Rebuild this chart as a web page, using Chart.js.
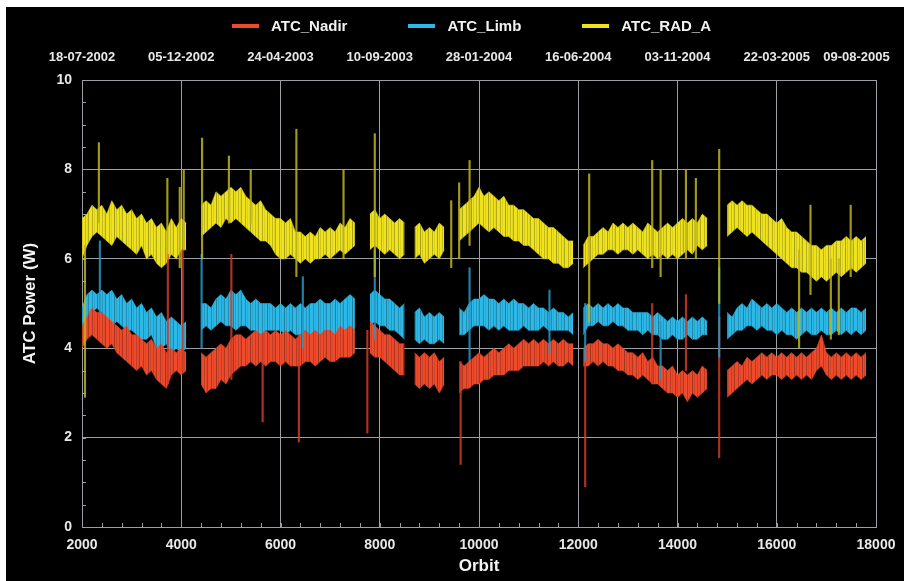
<!DOCTYPE html>
<html lang="en">
<head>
    <meta charset="UTF-8">
    <title>ATC Power</title>
    <style>
        html, body { margin: 0; padding: 0; background: #fff; }
        #panel {
            position: absolute; left: 6px; top: 7px;
            width: 898px; height: 574px;
            background: #000; overflow: hidden;
        }
        #chart-wrap { position: absolute; left: 0; top: 0; width: 898px; height: 574px; }
        #legend {
            position: absolute; left: 226px; top: 9px;
            display: flex; align-items: center;
            font: bold 15px 'Liberation Sans', Arial, sans-serif;
            color: #f2f2f2; line-height: 20px;
        }
        #legend .item { display: flex; align-items: center; margin-right: 61px; }
        #legend .swatch { width: 27px; height: 4px; margin-right: 12px; }
    </style>
</head>
<body>
    <div id="panel">
        <div id="chart-wrap"><canvas id="atcChart"></canvas></div>
        <div id="legend"></div>
    </div>

    <script src="https://cdn.jsdelivr.net/npm/chart.js"></script>
    <script>
        // samples every 100 orbits starting at orbit 2000, null = no data
        const orbitStart = 2000;
        const orbitStep = 100;

        const dateLabels = ['18-07-2002', '05-12-2002', '24-04-2003', '10-09-2003', '28-01-2004',
                            '16-06-2004', '03-11-2004', '22-03-2005', '09-08-2005'];

        const yellowHigh = [
            6.9, 7.0, 7.2, 7.1, 7.2, 7.0, 7.3, 7.1, 7.2, 7.0,
            7.1, 6.9, 7.0, 6.8, 6.9, 6.7, 6.8, 6.6, 6.9, 6.7,
            6.9, 6.8, null, null, 7.2, 7.3, 7.2, 7.5, 7.4, 7.5,
            7.6, 7.5, 7.6, 7.4, 7.3, 7.2, 7.3, 7.1, 7.0, 6.9,
            6.9, 6.8, 6.9, 6.6, 6.6, 6.5, 6.6, 6.5, 6.7, 6.6,
            6.7, 6.6, 6.8, 6.7, 6.9, 6.8, null, null, 7.0, 7.1,
            6.9, 7.0, 6.9, 6.8, 6.9, 6.8, null, 6.7, 6.8, 6.6,
            6.7, 6.6, 6.8, 6.7, null, null, 7.1, 7.2, 7.3, 7.4,
            7.6, 7.4, 7.5, 7.4, 7.3, 7.4, 7.2, 7.2, 7.1, 7.1,
            7.0, 6.9, 6.9, 6.8, 6.7, 6.7, 6.6, 6.5, 6.4, 6.4,
            null, 6.3, 6.5, 6.5, 6.6, 6.7, 6.6, 6.8, 6.7, 6.8,
            6.7, 6.8, 6.7, 6.6, 6.8, 6.7, 6.6, 6.7, 6.8, 6.7,
            6.8, 6.9, 6.8, 6.9, 6.8, 7.0, 6.9, null, null, null,
            7.2, 7.3, 7.2, 7.3, 7.2, 7.2, 7.1, 7.0, 7.0, 6.9,
            6.8, 6.9, 6.7, 6.6, 6.6, 6.5, 6.4, 6.3, 6.3, 6.2,
            6.3, 6.3, 6.4, 6.4, 6.5, 6.4, 6.5, 6.4, 6.5
        ];
        const yellowLow = [
            6.0, 6.3, 6.5, 6.6, 6.5, 6.4, 6.3, 6.5, 6.4, 6.3,
            6.2, 6.1, 6.3, 6.0, 6.1, 5.9, 5.8, 5.9, 6.1, 6.0,
            6.2, 6.2, null, null, 6.5, 6.6, 6.7, 6.8, 6.7, 6.9,
            6.8, 6.9, 6.8, 6.7, 6.6, 6.5, 6.4, 6.4, 6.3, 6.1,
            6.0, 6.0, 6.1, 6.0, 5.9, 6.0, 5.9, 6.0, 6.0, 6.1,
            6.0, 6.1, 6.2, 6.1, 6.2, 6.3, null, null, 6.2, 6.3,
            6.2, 6.1, 6.2, 6.1, 6.0, 6.1, null, 6.0, 6.1, 5.9,
            6.0, 6.1, 6.0, 6.2, null, null, 6.4, 6.5, 6.6, 6.7,
            6.8, 6.7, 6.6, 6.7, 6.6, 6.5, 6.5, 6.4, 6.4, 6.3,
            6.3, 6.2, 6.1, 6.0, 6.0, 5.9, 5.9, 5.8, 5.8, 5.9,
            null, 5.8, 5.9, 6.0, 6.1, 6.1, 6.2, 6.2, 6.1, 6.2,
            6.2, 6.1, 6.2, 6.1, 6.0, 6.1, 6.0, 6.1, 6.0, 6.1,
            6.0, 6.1, 6.2, 6.1, 6.3, 6.2, 6.3, null, null, null,
            6.5, 6.6, 6.7, 6.6, 6.5, 6.6, 6.5, 6.4, 6.3, 6.2,
            6.1, 6.0, 5.9, 5.8, 5.8, 5.7, 5.7, 5.6, 5.5, 5.6,
            5.5, 5.6, 5.7, 5.6, 5.7, 5.8, 5.7, 5.8, 5.9
        ];

        const blueHigh = [
            4.9, 5.2, 5.3, 5.2, 5.3, 5.2, 5.3, 5.1, 5.2, 5.0,
            5.1, 4.9, 5.0, 4.8, 4.9, 4.7, 4.8, 4.6, 4.7, 4.6,
            4.5, 4.6, null, null, 5.0, 5.0, 4.9, 5.1, 5.2, 5.1,
            5.3, 5.2, 5.3, 5.1, 5.0, 5.1, 5.0, 5.0, 5.0, 4.9,
            5.0, 4.9, 5.0, 4.9, 5.0, 4.9, 5.0, 5.0, 5.1, 5.0,
            5.0, 5.1, 5.0, 5.1, 5.2, 5.1, null, null, 5.2, 5.3,
            5.2, 5.1, 5.1, 5.0, 4.9, 5.0, null, 4.8, 4.9, 4.7,
            4.8, 4.7, 4.8, 4.7, null, null, 4.9, 4.8, 5.0, 5.1,
            5.1, 5.2, 5.1, 5.1, 5.0, 5.1, 5.0, 5.1, 5.0, 5.0,
            4.9, 5.0, 4.9, 4.9, 4.8, 4.9, 4.8, 4.8, 4.7, 4.8,
            null, 4.9, 5.0, 4.9, 5.0, 4.9, 5.0, 4.9, 5.0, 4.9,
            4.9, 4.8, 4.8, 4.8, 4.8, 4.7, 4.8, 4.7, 4.6, 4.7,
            4.6, 4.7, 4.6, 4.7, 4.6, 4.7, 4.6, null, null, null,
            4.8, 4.7, 4.9, 5.0, 4.9, 5.1, 5.0, 4.9, 5.0, 4.9,
            5.0, 4.9, 4.8, 4.9, 4.8, 4.9, 4.8, 4.9, 4.8, 4.9,
            4.8, 4.9, 4.8, 4.9, 4.8, 4.9, 4.9, 4.8, 4.9
        ];
        const blueLow = [
            4.4, 4.6, 4.8, 4.9, 4.8, 4.6, 4.5, 4.6, 4.5, 4.4,
            4.4, 4.3, 4.2, 4.2, 4.3, 4.0, 4.0, 4.1, 3.9, 4.0,
            3.9, 4.0, null, null, 4.4, 4.5, 4.4, 4.5, 4.6, 4.5,
            4.5, 4.4, 4.5, 4.5, 4.4, 4.4, 4.3, 4.4, 4.4, 4.4,
            4.4, 4.3, 4.4, 4.3, 4.3, 4.4, 4.3, 4.4, 4.3, 4.4,
            4.4, 4.3, 4.4, 4.4, 4.5, 4.4, null, null, 4.5, 4.6,
            4.5, 4.5, 4.4, 4.4, 4.3, 4.2, null, 4.2, 4.1, 4.2,
            4.1, 4.1, 4.2, 4.1, null, null, 4.3, 4.3, 4.4, 4.5,
            4.5, 4.5, 4.4, 4.5, 4.4, 4.5, 4.4, 4.4, 4.4, 4.5,
            4.4, 4.4, 4.4, 4.5, 4.4, 4.4, 4.4, 4.4, 4.4, 4.3,
            null, 4.3, 4.5, 4.5, 4.6, 4.5, 4.5, 4.6, 4.5, 4.5,
            4.4, 4.4, 4.4, 4.3, 4.4, 4.3, 4.3, 4.2, 4.2, 4.3,
            4.2, 4.2, 4.3, 4.2, 4.2, 4.3, 4.3, null, null, null,
            4.2, 4.3, 4.4, 4.4, 4.5, 4.5, 4.4, 4.5, 4.4, 4.4,
            4.3, 4.4, 4.3, 4.3, 4.2, 4.3, 4.4, 4.3, 4.3, 4.4,
            4.3, 4.3, 4.4, 4.3, 4.4, 4.3, 4.4, 4.3, 4.4
        ];

        const redHigh = [
            4.5, 4.7, 4.9, 4.8, 4.8, 4.7, 4.6, 4.5, 4.4, 4.5,
            4.3, 4.3, 4.2, 4.1, 4.2, 4.0, 4.1, 3.9, 4.0, 3.9,
            4.0, 3.9, null, null, 3.9, 3.8, 3.9, 4.0, 4.1, 4.0,
            4.2, 4.3, 4.3, 4.2, 4.3, 4.4, 4.3, 4.4, 4.3, 4.4,
            4.3, 4.4, 4.3, 4.2, 4.3, 4.4, 4.3, 4.4, 4.3, 4.4,
            4.4, 4.3, 4.5, 4.4, 4.5, 4.4, null, null, 4.6, 4.5,
            4.4, 4.3, 4.3, 4.2, 4.1, 4.1, null, 3.9, 3.8, 3.9,
            3.8, 3.9, 3.7, 3.8, null, null, 3.7, 3.6, 3.7, 3.8,
            3.9, 3.8, 3.9, 4.0, 3.9, 4.0, 4.1, 4.0, 4.1, 4.2,
            4.1, 4.2, 4.1, 4.2, 4.1, 4.2, 4.1, 4.2, 4.1, 4.1,
            null, 4.0, 4.1, 4.1, 4.2, 4.1, 4.1, 4.0, 4.1, 4.0,
            3.9, 3.9, 3.8, 3.9, 3.7, 3.8, 3.6, 3.6, 3.5, 3.6,
            3.4, 3.5, 3.4, 3.5, 3.4, 3.6, 3.5, null, null, null,
            3.5, 3.6, 3.7, 3.6, 3.8, 3.7, 3.8, 3.9, 3.8, 3.9,
            3.8, 3.9, 3.8, 3.9, 3.8, 3.9, 3.8, 3.9, 4.0, 4.3,
            3.9, 3.8, 3.9, 3.8, 3.9, 3.8, 3.9, 3.8, 3.9
        ];
        const redLow = [
            4.0, 4.2, 4.3, 4.2, 4.1, 4.0, 4.1, 3.9, 3.8, 3.7,
            3.6, 3.5, 3.6, 3.4, 3.5, 3.3, 3.2, 3.1, 3.4, 3.5,
            3.4, 3.5, null, null, 3.2, 3.0, 3.1, 3.1, 3.3, 3.2,
            3.4, 3.5, 3.6, 3.6, 3.7, 3.6, 3.7, 3.6, 3.7, 3.7,
            3.6, 3.7, 3.6, 3.6, 3.6, 3.7, 3.7, 3.6, 3.7, 3.8,
            3.7, 3.7, 3.8, 3.8, 3.8, 3.9, null, null, 3.9, 3.8,
            3.8, 3.7, 3.6, 3.5, 3.4, 3.4, null, 3.2, 3.1, 3.2,
            3.1, 3.2, 3.0, 3.2, null, null, 3.0, 3.1, 3.1, 3.2,
            3.2, 3.3, 3.3, 3.4, 3.4, 3.4, 3.5, 3.5, 3.5, 3.6,
            3.6, 3.6, 3.6, 3.7, 3.6, 3.7, 3.6, 3.6, 3.7, 3.6,
            null, 3.6, 3.6, 3.7, 3.6, 3.7, 3.6, 3.6, 3.5, 3.5,
            3.4, 3.4, 3.3, 3.4, 3.3, 3.2, 3.2, 3.1, 3.0, 3.0,
            2.9, 3.0, 2.8, 3.0, 2.9, 3.0, 3.1, null, null, null,
            2.9, 3.0, 3.1, 3.2, 3.3, 3.2, 3.3, 3.4, 3.3, 3.4,
            3.4, 3.3, 3.4, 3.3, 3.4, 3.3, 3.4, 3.3, 3.5, 3.6,
            3.4, 3.3, 3.4, 3.3, 3.4, 3.3, 3.4, 3.3, 3.4
        ];

        // isolated outliers: [orbit, low, high]
        const yellowSpikes = [
            [2060, 2.9, 6.3], [2340, 6.8, 8.6], [3720, 6.0, 7.8], [3970, 5.8, 7.6], [4050, 6.2, 8.0],
            [4420, 6.0, 8.7], [4960, 6.8, 8.3], [5400, 6.8, 8.0], [6320, 5.6, 8.9], [7270, 6.0, 8.0],
            [7900, 5.6, 8.8], [9440, 5.8, 7.3], [9600, 6.0, 7.7], [9810, 6.3, 8.2], [12220, 4.6, 7.9],
            [13490, 5.8, 8.2], [13660, 5.6, 8.0], [14170, 6.0, 8.0], [14370, 6.0, 7.8], [14840, 5.0, 8.45],
            [16450, 4.0, 6.2], [16680, 5.2, 7.2], [17090, 4.2, 6.0], [17250, 4.3, 6.0], [17490, 5.6, 7.2]
        ];
        const blueSpikes = [
            [2360, 4.8, 6.4], [4410, 4.0, 6.1], [6450, 4.0, 5.6], [7900, 4.2, 6.2], [9810, 3.7, 5.8],
            [11420, 3.9, 5.3], [12140, 3.7, 5.0], [13660, 3.3, 4.6], [14840, 3.8, 5.8]
        ];
        const redSpikes = [
            [3730, 3.2, 6.1], [4030, 3.5, 6.2], [5010, 3.3, 6.1], [5640, 2.35, 4.3], [6370, 1.9, 4.3],
            [7750, 2.1, 4.4], [9630, 1.4, 3.7], [12140, 0.9, 4.0], [13490, 3.2, 5.0], [14170, 3.5, 5.2],
            [14840, 1.55, 4.7]
        ];

        const series = [
            { name: 'ATC_Nadir', color: '#ee4a2c', edge: 'rgba(238,74,44,0.55)',  spike: 'rgba(205,60,40,0.85)' },
            { name: 'ATC_Limb',  color: '#2cb9e8', edge: 'rgba(44,185,232,0.55)', spike: 'rgba(40,150,195,0.85)' },
            { name: 'ATC_RAD_A', color: '#efe31f', edge: 'rgba(239,227,31,0.55)', spike: 'rgba(190,180,30,0.85)' }
        ];

        const gridColor = '#9ca0a4';
        const tickColor = '#e8e8e8';
        const fontFamily = "'Liberation Sans', Arial, sans-serif";

        // darker vertical streaks inside each band
        const streakShade = [0, 0.22, 0, 0.08, 0, 0, 0.3, 0, 0.12, 0, 0, 0.18, 0, 0.05, 0.25, 0, 0];
        function streaks(color) {
            const c = document.createElement('canvas');
            c.width = streakShade.length;
            c.height = 1;
            const g = c.getContext('2d');
            g.fillStyle = color;
            g.fillRect(0, 0, c.width, 1);
            streakShade.forEach((a, px) => {
                g.fillStyle = 'rgba(0,0,0,' + a + ')';
                g.fillRect(px, 0, 1, 1);
            });
            return g.createPattern(c, 'repeat');
        }

        function line(vals) {
            return vals.map((v, i) => ({ x: orbitStart + i * orbitStep, y: v }));
        }

        function spikes(list) {
            return list.map(([x, lo, hi]) => ({ x: x, y: [lo, hi] }));
        }

        // small inward tick marks between the labelled ones
        const minorTicks = {
            id: 'minorTicks',
            beforeDatasetsDraw(chart) {
                const { ctx, chartArea: a, scales: { x, y } } = chart;
                ctx.save();
                ctx.strokeStyle = gridColor;
                ctx.lineWidth = 1;
                ctx.beginPath();
                for (let o = x.min; o <= x.max; o += 400) {
                    const px = Math.round(x.getPixelForValue(o)) + 0.5;
                    ctx.moveTo(px, a.bottom);
                    ctx.lineTo(px, a.bottom - 4);
                }
                for (let v = y.min; v <= y.max; v += 0.5) {
                    const py = Math.round(y.getPixelForValue(v)) + 0.5;
                    ctx.moveTo(a.left, py);
                    ctx.lineTo(a.left + 4, py);
                }
                ctx.stroke();
                ctx.restore();
            }
        };

        // upper edge fills down to the lower edge that follows it
        function bandPair(s, hi, lo, order) {
            const common = { type: 'line', label: s.name, borderColor: s.edge, borderWidth: 1,
                             pointRadius: 0, tension: 0, spanGaps: false, order: order };
            return [
                Object.assign({}, common, { data: line(hi), backgroundColor: streaks(s.color), fill: '+1' }),
                Object.assign({}, common, { data: line(lo), fill: false })
            ];
        }

        function spikeSet(s, list, order) {
            return { type: 'bar', label: s.name, data: spikes(list), backgroundColor: s.spike,
                     barThickness: 1.5, grouped: false, order: order };
        }

        const [nadir, limb, rad] = series;
        const datasets = [
            ...bandPair(rad, yellowHigh, yellowLow, 3),
            ...bandPair(nadir, redHigh, redLow, 4),
            ...bandPair(limb, blueHigh, blueLow, 5),
            spikeSet(rad, yellowSpikes, 0),
            spikeSet(limb, blueSpikes, 1),
            spikeSet(nadir, redSpikes, 2)
        ];

        Chart.defaults.font.family = fontFamily;
        Chart.defaults.font.weight = 'bold';
        Chart.defaults.color = tickColor;

        const noEdgePadding = (s) => { s.paddingLeft = 0; s.paddingRight = 0; };

        new Chart(document.getElementById('atcChart'), {
            type: 'line',
            data: { datasets: datasets },
            options: {
                responsive: true,
                maintainAspectRatio: false,
                animation: false,
                layout: { autoPadding: false, padding: { left: 0, right: 28, top: 0, bottom: 0 } },
                plugins: {
                    legend: { display: false },
                    tooltip: { enabled: false }
                },
                scales: {
                    x: {
                        type: 'linear',
                        position: 'bottom',
                        min: 2000, max: 18000,
                        offset: false,
                        grid: { color: gridColor, drawTicks: false, offset: false },
                        border: { color: gridColor },
                        ticks: { stepSize: 2000, padding: 10, color: tickColor, font: { size: 14 },
                                 maxRotation: 0, autoSkip: false, callback: (v) => String(v) },
                        title: { display: true, text: 'Orbit', color: '#f4f4f4', font: { size: 17 }, padding: { top: 0, bottom: 4 } },
                        afterFit: (s) => { s.height = 54; noEdgePadding(s); }
                    },
                    xTop: {
                        type: 'linear',
                        position: 'top',
                        min: 2000, max: 18000,
                        offset: false,
                        grid: { display: false, drawTicks: false },
                        border: { color: gridColor },
                        ticks: {
                            stepSize: 2000, padding: 15, color: tickColor, font: { size: 13 },
                            maxRotation: 0, minRotation: 0, autoSkip: false,
                            // last date is kept inside the panel edge
                            callback: (v, i, ticks) => {
                                const d = dateLabels[(v - 2000) / 2000];
                                return i === ticks.length - 1 ? d + '\u2003\u2003\u2003' : d;
                            }
                        },
                        afterFit: (s) => { s.height = 73; noEdgePadding(s); }
                    },
                    y: {
                        min: 0, max: 10,
                        grid: { color: gridColor, drawTicks: false },
                        border: { color: gridColor },
                        ticks: { stepSize: 2, padding: 10, color: tickColor, font: { size: 14 } },
                        title: { display: true, text: 'ATC Power (W)', color: '#f4f4f4', font: { size: 17 }, padding: { top: 14, bottom: 0 } },
                        afterFit: (s) => { s.width = 76; }
                    }
                }
            },
            plugins: [minorTicks]
        });

        // legend row built from the series list
        const legend = document.getElementById('legend');
        series.forEach((s) => {
            const item = document.createElement('div');
            item.className = 'item';
            const sw = document.createElement('span');
            sw.className = 'swatch';
            sw.style.background = s.color;
            const txt = document.createElement('span');
            txt.textContent = s.name;
            item.appendChild(sw);
            item.appendChild(txt);
            legend.appendChild(item);
        });
    </script>
</body>
</html>
